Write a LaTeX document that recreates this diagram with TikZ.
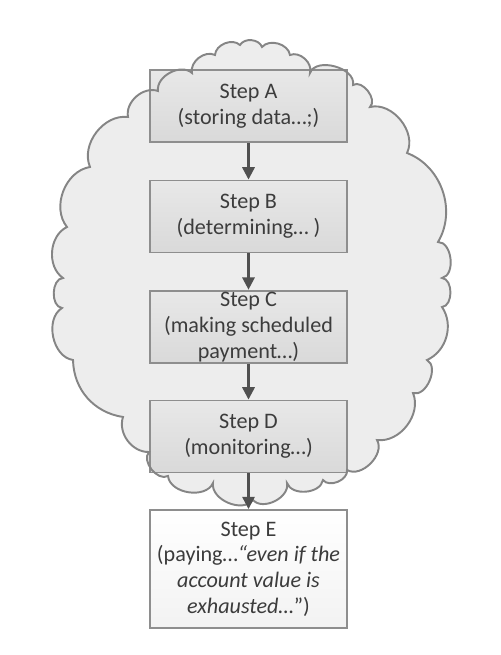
\documentclass[tikz,border=0pt]{standalone}
\usepackage{fontspec}
\setmainfont{Carlito}
\usetikzlibrary{arrows.meta}
\definecolor{cloudfill}{HTML}{EDEDED}
\definecolor{cloudline}{HTML}{858585}
\definecolor{boxline}{HTML}{8E8E8E}
\definecolor{boxtop}{HTML}{E8E8E8}
\definecolor{boxbot}{HTML}{D9D9D9}
\definecolor{txt}{HTML}{3C3C3C}
\definecolor{arr}{HTML}{505050}
\tikzset{
  stepbox/.style={draw=boxline, line width=1.1pt, top color=boxtop, bottom color=boxbot,
    minimum width=3.94cm, minimum height=1.44cm, align=center, text=txt,
    font=\fontsize{12.6}{14.6}\selectfont, inner sep=1pt},
  lastbox/.style={stepbox, top color=white, bottom color=white!95!black, minimum height=2.36cm},
  flow/.style={draw=arr, line width=1.3pt, -{Triangle[width=7pt,length=7pt]}},
  cloudshape/.style={line width=1.1pt, draw=cloudline}
}
\begin{document}
\begin{tikzpicture}[x=0.02cm,y=-0.02cm]
\useasboundingbox (0,0) rectangle (500,655);
\def\cloudpath{(158,91) to[bend left=70] (192,73) to[bend left=65] (215,55) to[bend left=65] (240,45) to[bend left=65] (262,47) to[bend left=65] (290,55) to[bend left=65] (310,73) to[bend left=85] (353,85) to[bend left=85] (370,107) to[bend left=65] (407,153) to[bend left=50] (438,242) to[bend left=85] (442,278) to[bend left=85] (442,307) to[bend left=50] (427,360) to[bend left=85] (413,393) to[bend left=60] (377,440) to[bend left=75] (347,470) to[bend left=75] (323,480) to[bend left=75] (287,483) to[bend left=75] (253,500) to[bend left=75] (213,483) to[bend left=75] (168,476) to[bend left=80] (149,452) to[bend left=55] (123,417) to[bend left=40] (73,360) to[bend left=70] (62,308) to[bend left=85] (63,278) to[bend left=60] (67,227) to[bend left=60] (90,167) to[bend left=60] (128,117) to[bend left=60] (158,91) -- cycle}
\fill[cloudfill] \cloudpath;
\node[stepbox] (A) at (248.5,106) {Step A\\(storing data…;)};
\node[stepbox] (B) at (248.5,216.5) {Step B\\(determining… )};
\node[stepbox] (C) at (248.5,327) {Step C\\(making scheduled\\payment…)};
\node[stepbox] (D) at (248.5,436.5) {Step D\\(monitoring…)};
\node[lastbox] (E) at (248.5,569) {Step E\\(paying…\textit{“even if the}\\\textit{account value is}\\\textit{exhausted…}”)};
\draw[cloudshape] \cloudpath;
\draw[flow] (A) -- (B);
\draw[flow] (B) -- (C);
\draw[flow] (C) -- (D);
\draw[flow] (D) -- (E);
\end{tikzpicture}
\end{document}
